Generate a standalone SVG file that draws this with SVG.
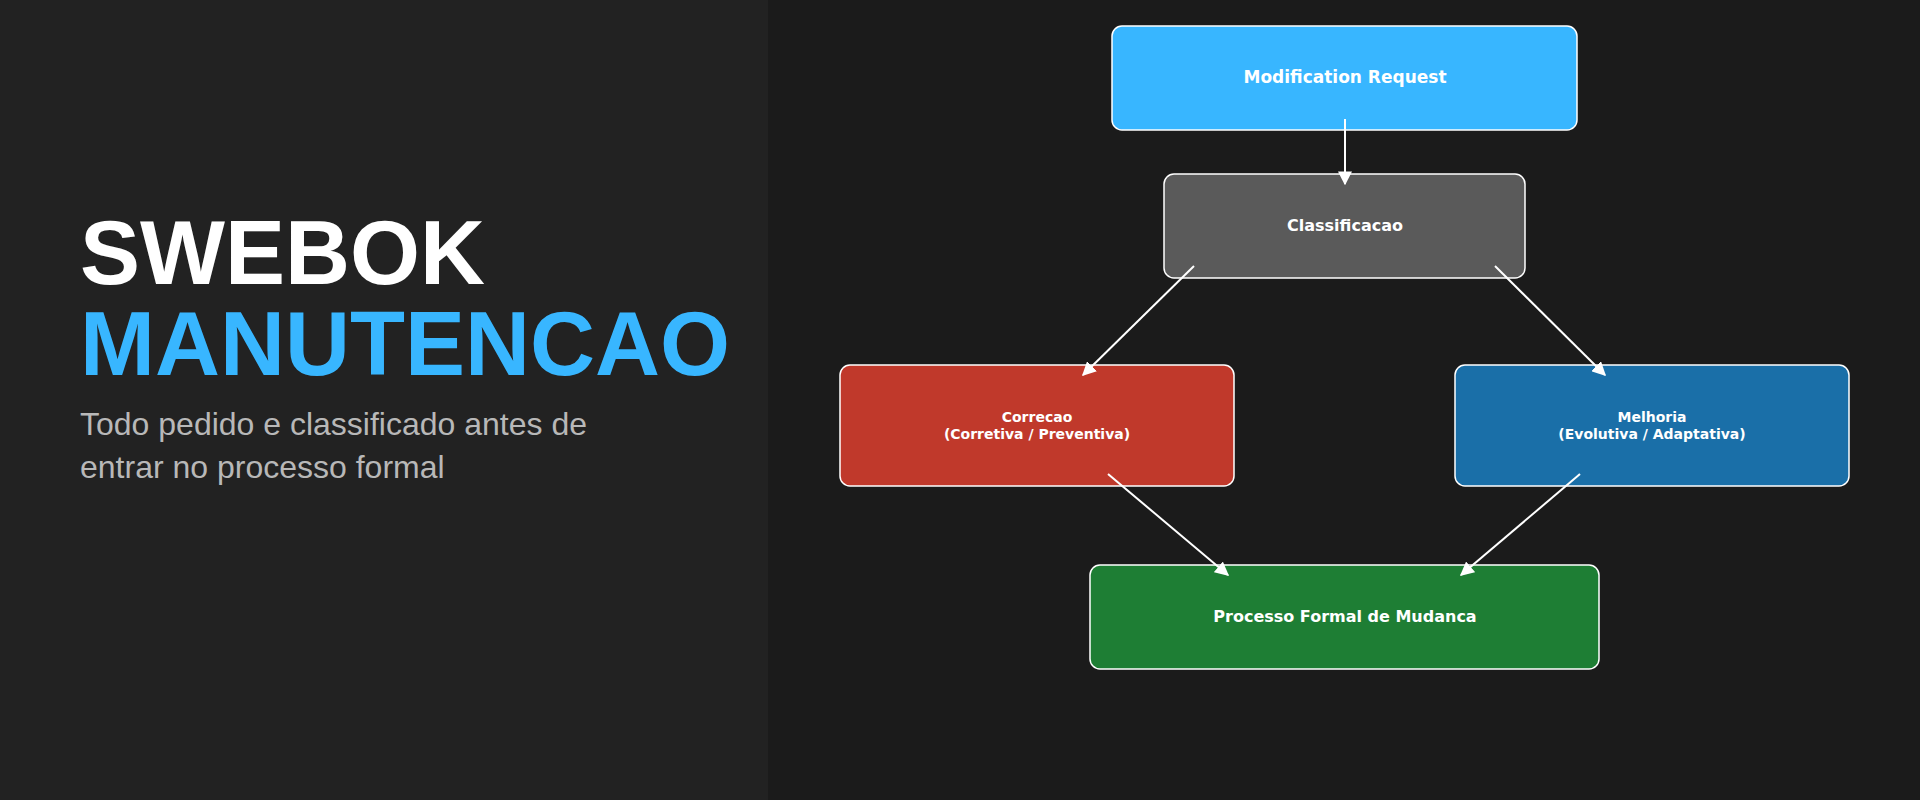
<svg xmlns="http://www.w3.org/2000/svg" width="1920" height="800" viewBox="0 0 1920 800">
<defs>
<marker id="ah" viewBox="0 0 10 10" refX="9" refY="5" markerWidth="7" markerHeight="7" orient="auto"><path d="M0,0 L10,5 L0,10 z" fill="#ffffff"/></marker>
<style>
.n rect{stroke:#ffffff;stroke-width:1.5}
.n text{font-family:"DejaVu Sans",sans-serif;font-weight:bold;fill:#ffffff;text-anchor:middle}
.c line{stroke:#ffffff;stroke-width:2;marker-end:url(#ah)}
</style>
</defs>
<rect width="1920" height="800" fill="#1b1b1b"/>
<rect width="768" height="800" fill="#222222"/>
<text x="80" y="284" font-family="Liberation Sans,sans-serif" font-weight="bold" font-size="90" fill="#ffffff">SWEBOK</text>
<text x="80" y="375" font-family="Liberation Sans,sans-serif" font-weight="bold" font-size="90" fill="#38b6ff">MANUTENCAO</text>
<text font-family="Liberation Sans,sans-serif" font-size="32" fill="#b8b8b8"><tspan x="80" y="435">Todo pedido e classificado antes de</tspan><tspan x="80" y="478">entrar no processo formal</tspan></text>
<g id="mod" class="n"><rect x="1112" y="26" width="465" height="104" rx="10" fill="#38b6ff"/><text x="1345" y="83" font-size="17">Modification Request</text></g>
<g id="cls" class="n"><rect x="1164" y="174" width="361" height="104" rx="10" fill="#5a5a5a"/><text x="1345" y="231" font-size="16">Classificacao</text></g>
<g id="cor" class="n"><rect x="840" y="365" width="394" height="121" rx="10" fill="#c0392b"/><text x="1037" y="422" font-size="14">Correcao</text><text x="1037" y="439" font-size="14">(Corretiva / Preventiva)</text></g>
<g id="mel" class="n"><rect x="1455" y="365" width="394" height="121" rx="10" fill="#1a6fa8"/><text x="1652" y="422" font-size="14">Melhoria</text><text x="1652" y="439" font-size="14">(Evolutiva / Adaptativa)</text></g>
<g id="proc" class="n"><rect x="1090" y="565" width="509" height="104" rx="10" fill="#1e7e34"/><text x="1345" y="622" font-size="16">Processo Formal de Mudanca</text></g>
<g class="c">
<line x1="1345" y1="119" x2="1345" y2="184"/>
<line x1="1194" y1="266" x2="1083" y2="375"/>
<line x1="1495" y1="266" x2="1605" y2="375"/>
<line x1="1108" y1="474" x2="1228" y2="575"/>
<line x1="1580" y1="474" x2="1461" y2="575"/>
</g>
</svg>
